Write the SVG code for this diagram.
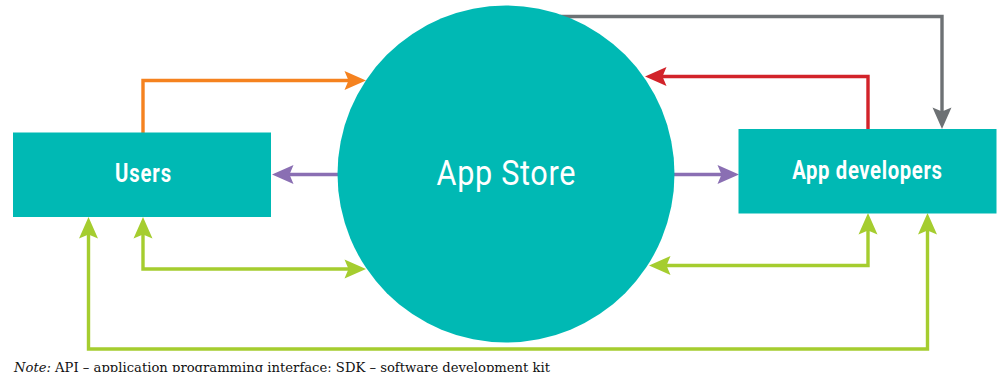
<svg xmlns="http://www.w3.org/2000/svg" width="1000" height="377" viewBox="0 0 1000 377">
<style>
.n{fill:#00b9b4}
.c{fill:none;stroke-width:3.4}
.t{fill:#fff;font-family:"Roboto","Liberation Sans",sans-serif;text-anchor:middle}
.b{font-weight:700;font-size:26px}
.note{font-family:"DejaVu Serif",serif;font-size:12.500px;fill:#111}
</style>
<defs>
<marker id="org" markerUnits="userSpaceOnUse" markerWidth="24" markerHeight="22" viewBox="-22 -11 24 22" refX="-14" refY="0" orient="auto-start-reverse"><path d="M0 0L-21.500-9.500-17.500 0-21.500 9.500Z" fill="#f5821f"/></marker>
<marker id="pur" markerUnits="userSpaceOnUse" markerWidth="24" markerHeight="22" viewBox="-22 -11 24 22" refX="-14" refY="0" orient="auto-start-reverse"><path d="M0 0L-21.500-9.500-17.500 0-21.500 9.500Z" fill="#8a6fb3"/></marker>
<marker id="grn" markerUnits="userSpaceOnUse" markerWidth="24" markerHeight="22" viewBox="-22 -11 24 22" refX="-14" refY="0" orient="auto-start-reverse"><path d="M0 0L-21.500-9.500-17.500 0-21.500 9.500Z" fill="#a5cd2f"/></marker>
<marker id="red" markerUnits="userSpaceOnUse" markerWidth="24" markerHeight="22" viewBox="-22 -11 24 22" refX="-14" refY="0" orient="auto-start-reverse"><path d="M0 0L-21.500-9.500-17.500 0-21.500 9.500Z" fill="#d2232a"/></marker>
<marker id="gry" markerUnits="userSpaceOnUse" markerWidth="24" markerHeight="22" viewBox="-22 -11 24 22" refX="-14" refY="0" orient="auto-start-reverse"><path d="M0 0L-21.500-9.500-17.500 0-21.500 9.500Z" fill="#6d7174"/></marker>
<clipPath id="page"><rect x="0" y="0" width="1000" height="372"/></clipPath>
</defs>
<rect width="1000" height="377" fill="#fff"/>
<g id="connectors">
<path class="c" stroke="#6d7174" marker-end="url(#gry)" d="M560 16.500H942V115"/>
<path class="c" stroke="#d2232a" marker-end="url(#red)" d="M868 129V76.500H659"/>
<path class="c" stroke="#f5821f" marker-end="url(#org)" d="M143 133V80.500H352"/>
<path class="c" stroke="#8a6fb3" marker-end="url(#pur)" d="M340 174.500H286"/>
<path class="c" stroke="#8a6fb3" stroke-width="2.500" marker-end="url(#pur)" d="M672 174.500H725"/>
<path class="c" stroke="#a5cd2f" marker-start="url(#grn)" marker-end="url(#grn)" d="M143 231V269H352"/>
<path class="c" stroke="#a5cd2f" marker-start="url(#grn)" marker-end="url(#grn)" d="M868 227V265.500H663"/>
<path class="c" stroke="#a5cd2f" marker-start="url(#grn)" marker-end="url(#grn)" d="M88.500 231V349H927.500V227"/>
</g>
<g id="app-store"><circle class="n" cx="506" cy="174" r="168.500"/><text class="t" transform="translate(506 184.500) scale(.85 1)" font-size="36" textLength="163.500" lengthAdjust="spacing">App Store</text></g>
<g id="users"><rect class="n" x="13" y="132.500" width="258" height="84.500"/><text class="t b" transform="translate(143 182) scale(.78 1)" textLength="72" lengthAdjust="spacing">Users</text></g>
<g id="app-developers"><rect class="n" x="738.500" y="129" width="258" height="84.500"/><text class="t b" transform="translate(867 178.500) scale(.78 1)" textLength="192" lengthAdjust="spacing">App developers</text></g>
<g clip-path="url(#page)"><text class="note" x="14" y="372" textLength="536" lengthAdjust="spacingAndGlyphs"><tspan font-style="italic">Note:</tspan> API – application programming interface; SDK – software development kit</text></g>
</svg>
